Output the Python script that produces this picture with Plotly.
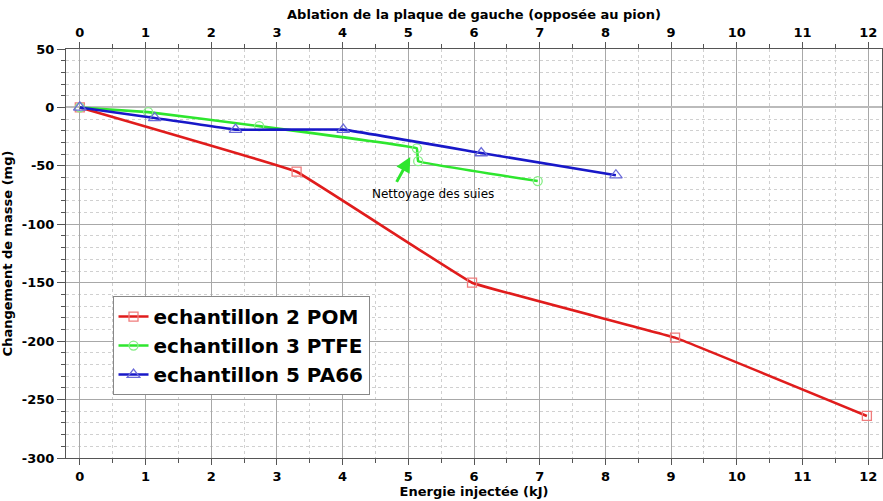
import plotly.graph_objects as go

# Mass change vs injected energy, three samples
pom_x = [0.0, 3.30, 5.97, 9.06, 11.98]
pom_y = [0, -55, -150, -197, -264]

ptfe_x = [0.0, 1.04, 2.73, 5.13, 5.15, 6.97]
ptfe_y = [0, -4, -16, -35, -46, -63]

pa66_x = [0.0, 1.14, 2.37, 4.01, 6.11, 8.16]
pa66_y = [0, -9, -19, -19, -39, -58]

series_names = ["echantillon 2 POM", "echantillon 3 PTFE", "echantillon 5 PA66"]
x_ticks = list(range(0, 13))
y_ticks = [50, 0, -50, -100, -150, -200, -250, -300]

font_family = "DejaVu Sans"

fig = go.Figure()

styles = [
    (pom_x, pom_y, "#e01c1c", "#f07c7c", "square-open", 9),
    (ptfe_x, ptfe_y, "#2ee62e", "#86ee86", "circle-open", 9),
    (pa66_x, pa66_y, "#1818c8", "#6a6ad8", "triangle-up-open", 11),
]
for name, (xs, ys, lc, mc, sym, sz) in zip(series_names, styles):
    fig.add_trace(go.Scatter(
        x=xs, y=ys, name=name, mode="lines+markers",
        line=dict(color=lc, width=2.6, shape="spline", smoothing=0.15),
        marker=dict(symbol=sym, size=sz, color=mc, line=dict(color=mc, width=1.3)),
    ))

# Invisible copy bound to the top axis so that axis gets drawn
fig.add_trace(go.Scatter(
    x=pom_x, y=pom_y, xaxis="x2", yaxis="y", mode="lines",
    line=dict(width=0), opacity=0, showlegend=False, hoverinfo="skip",
))

major_grid = "#a8a8a8"
minor_grid = "#d0d0d0"
axis_font = dict(family=font_family, size=13, color="black", weight="bold")

common_x = dict(
    range=[-0.21, 12.21], tickmode="array", tickvals=x_ticks,
    ticktext=[str(v) for v in x_ticks],
    showline=True, linecolor="#555555", linewidth=1,
    ticks="outside", ticklen=6, tickcolor="#555555",
    tickfont=axis_font, zeroline=False, automargin=False,
)

fig.update_layout(
    width=883, height=501,
    margin=dict(l=66, r=1, t=49, b=43),
    plot_bgcolor="white", paper_bgcolor="white",
    font=dict(family=font_family, color="black"),
    xaxis=dict(
        **common_x,
        title=dict(text="Energie injectée (kJ)", font=axis_font, standoff=2),
        showgrid=True, gridcolor=major_grid, gridwidth=1,
        minor=dict(dtick=0.5, showgrid=True, gridcolor=minor_grid, griddash="dot",
                   ticks="outside", ticklen=4, tickcolor="#555555"),
    ),
    xaxis2=dict(
        **common_x,
        overlaying="x", side="top", anchor="y", matches="x",
        title=dict(text="Ablation de la plaque de gauche (opposée au pion)", font=axis_font, standoff=2),
        showgrid=False,
        minor=dict(dtick=0.5, ticks="outside", ticklen=4, tickcolor="#555555"),
    ),
    yaxis=dict(
        range=[-300, 50], tickmode="array", tickvals=y_ticks,
        ticktext=[str(v) for v in y_ticks],
        title=dict(text="Changement de masse (mg)", font=axis_font),
        showline=True, linecolor="#555555", linewidth=1, mirror=True,
        ticks="outside", ticklen=8, tickcolor="#555555",
        tickfont=axis_font, automargin=False,
        showgrid=True, gridcolor=major_grid, gridwidth=1,
        zeroline=True, zerolinecolor="#bbbbbb", zerolinewidth=2,
        minor=dict(dtick=10, showgrid=True, gridcolor=minor_grid, griddash="dot",
                   ticks="outside", ticklen=4, tickcolor="#555555"),
    ),
    legend=dict(
        x=0.057, y=0.396, xanchor="left", yanchor="top",
        bgcolor="white", bordercolor="#888888", borderwidth=1,
        font=dict(family=font_family, size=20, color="black", weight="bold"),
        tracegroupgap=0, itemwidth=30,
    ),
    showlegend=True,
)

# Soot-cleaning note with its arrow
fig.add_annotation(
    x=5.03, y=-42.5, ax=4.81, ay=-65, xref="x", yref="y", axref="x", ayref="y",
    text="", showarrow=True, arrowhead=2, arrowsize=1, arrowwidth=3,
    arrowcolor="#2ee62e",
)
fig.add_annotation(
    x=5.37, y=-74.5, xref="x", yref="y", text="Nettoyage des suies",
    showarrow=False, font=dict(family=font_family, size=12, color="black"),
)

fig.write_html("out.html")
